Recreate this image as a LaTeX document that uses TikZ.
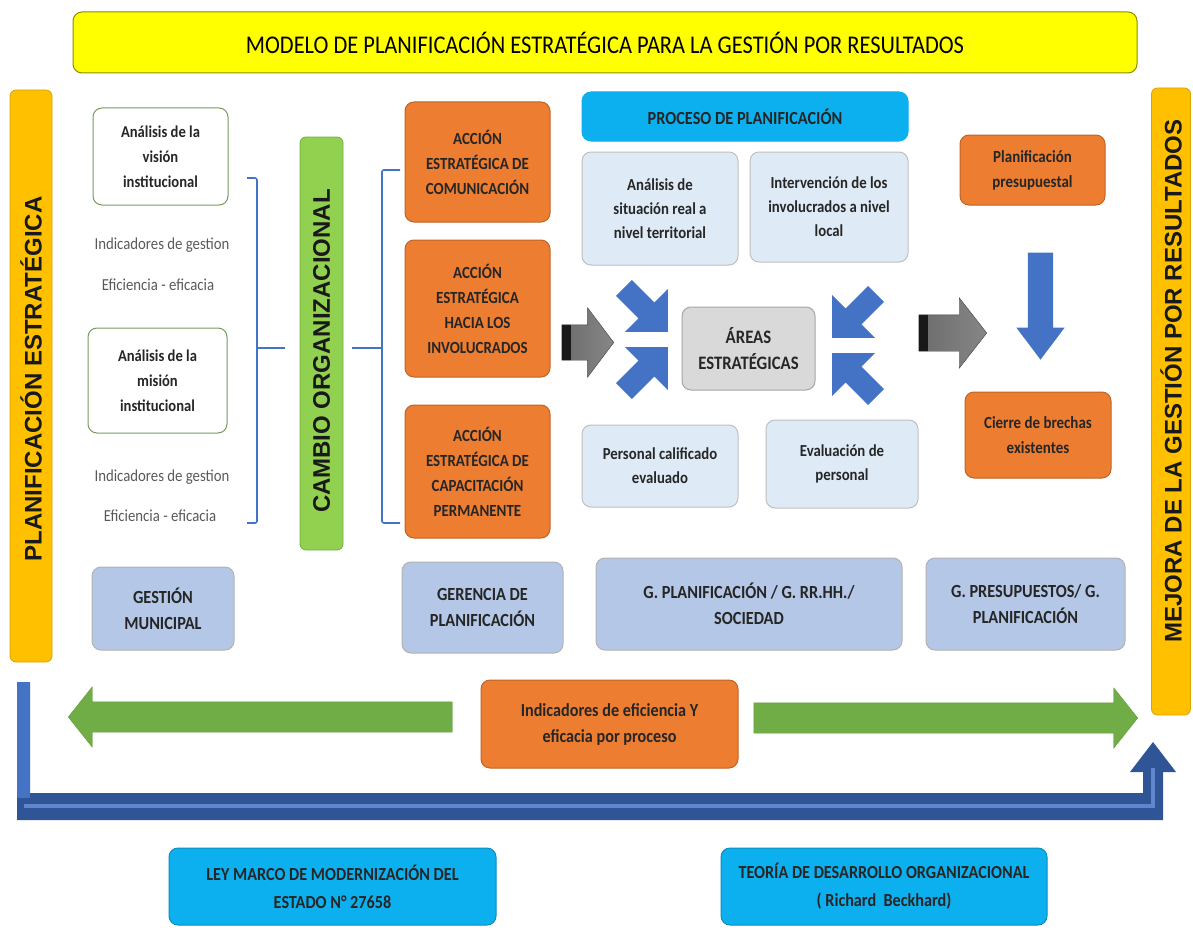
\documentclass[tikz,border=0pt]{standalone}
\usepackage{fontspec}
\setmainfont{Carlito}[FakeStretch=0.88]
\newfontfamily\arialfont{Liberation Sans}
\usepackage{xcolor}
\usepackage{tikz}
\usetikzlibrary{shapes, arrows.meta, positioning}

\definecolor{amarillo}{HTML}{FFFF00}
\definecolor{dorado}{HTML}{FFC000}
\definecolor{naranja}{HTML}{ED7D31}
\definecolor{verde}{HTML}{92D050}
\definecolor{verdeflecha}{HTML}{70AD47}
\definecolor{celeste}{HTML}{DEEBF7}
\definecolor{azulgris}{HTML}{B4C7E7}
\definecolor{azul}{HTML}{4472C4}
\definecolor{azuloscuro}{HTML}{2F5597}
\definecolor{cian}{HTML}{0DB0EE}
\definecolor{gris}{HTML}{D9D9D9}
\definecolor{texto}{HTML}{262626}

\tikzset{
  caja/.style={rounded corners=9pt, align=center, text=texto, inner sep=2pt,
    line width=1pt, font=\bfseries\fontsize{17}{25}\selectfont},
  naranjabox/.style={caja, fill=naranja, draw=naranja!80!black},
  celestebox/.style={caja, fill=celeste, draw=gray!50, font=\bfseries\fontsize{16.8}{24}\selectfont},
  blancobox/.style={caja, fill=white, draw=verdeflecha!60!gray, font=\bfseries\fontsize{16.6}{25}\selectfont},
  gerenciabox/.style={caja, fill=azulgris, draw=gray!60, font=\bfseries\fontsize{18.5}{26}\selectfont},
  cianbox/.style={caja, fill=cian, draw=cian!80!black, font=\bfseries\fontsize{18.4}{28}\selectfont},
  barra/.style={rounded corners=6pt, fill=dorado, draw=dorado!85!black, line width=.8pt},
  vtexto/.style={rotate=90, inner sep=0pt, text=black!90, font=\arialfont\bfseries\fontsize{24}{24}\selectfont},
  indicador/.style={inner sep=0pt, text=black!65, font=\fontsize{16.8}{17}\selectfont},
  llave/.style={azul, line width=1.6pt, rounded corners=2pt},
  flechaazul/.style={single arrow, fill=azul, single arrow tip angle=90, inner sep=11pt,
    single arrow head extend=19pt, minimum height=62pt, anchor=tip},
  flechagris/.style={single arrow, draw=black!75, left color=gray!85!black, right color=gray!95,
    inner xsep=0pt, anchor=tip,
    path picture={\fill[black!90] (path picture bounding box.south west)
      rectangle ([xshift=9pt]path picture bounding box.north west);}},
  flechaverde/.style={single arrow, fill=verdeflecha, draw=verdeflecha!90!black, inner xsep=0pt,
    inner ysep=15pt, single arrow head extend=15pt, single arrow tip angle=103,
    minimum height=384pt, anchor=tip}
}

\begin{document}
\begin{tikzpicture}[x=1pt, y=-1pt]
  \useasboundingbox (0,0) rectangle (1193,931);

  % Titulo
  \node[caja, fill=amarillo, draw=amarillo!55!black, minimum width=1064, minimum height=61,
    text=black, font=\fontsize{25.5}{26}\selectfont] (titulo) at (605,42.5)
    {MODELO DE PLANIFICACIÓN ESTRATÉGICA PARA LA GESTIÓN POR RESULTADOS};

  % Barras laterales
  \node[barra, rotate=90, minimum width=572, minimum height=42] (planest) at (31,376) {};
  \node[vtexto] (planesttxt) at (31,379) {PLANIFICACIÓN ESTRATÉGICA};
  \node[barra, rotate=90, minimum width=627, minimum height=39] (mejora) at (1171,401.5) {};
  \node[vtexto] (mejoratxt) at (1171,381) {MEJORA DE LA GESTIÓN POR RESULTADOS};

  % Columna izquierda
  \node[blancobox, minimum width=135, minimum height=97] (vision) at (160.5,156.5)
    {Análisis de la\\visión\\institucional};
  \node[indicador] (ind1) at (162,245) {Indicadores de gestion};
  \node[indicador] (efi1) at (158,285) {Eficiencia - eficacia};
  \node[blancobox, minimum width=139, minimum height=105] (mision) at (157.5,380.5)
    {Análisis de la\\misión\\institucional};
  \node[indicador] (ind2) at (162,477) {Indicadores de gestion};
  \node[indicador] (efi2) at (160,516) {Eficiencia - eficacia};

  % Llaves
  \draw[llave] (247,178) -- (257,178) -- (257,523) -- (247,523);
  \draw[llave] (257,348) -- (285,348);
  \draw[llave] (400,170) -- (382,170) -- (382,523) -- (400,523);
  \draw[llave] (352,348) -- (382,348);

  % Cambio organizacional
  \node[barra, rotate=90, fill=verde, draw=verdeflecha, minimum width=413, minimum height=43]
    (cambio) at (321.5,343.5) {};
  \node[vtexto] (cambiotxt) at (321.5,351) {CAMBIO ORGANIZACIONAL};

  % Acciones estrategicas
  \node[naranjabox, minimum width=145, minimum height=120] (comunic) at (477.5,162)
    {ACCIÓN\\ESTRATÉGICA DE\\COMUNICACIÓN};
  \node[naranjabox, minimum width=145, minimum height=137] (involuc) at (477.5,308.5)
    {ACCIÓN\\ESTRATÉGICA\\HACIA LOS\\INVOLUCRADOS};
  \node[naranjabox, minimum width=145, minimum height=133] (capacit) at (477.5,471.5)
    {ACCIÓN\\ESTRATÉGICA DE\\CAPACITACIÓN\\PERMANENTE};

  % Proceso de planificacion
  \node[caja, fill=cian, draw=cian, minimum width=326, minimum height=49,
    font=\bfseries\fontsize{18.5}{19}\selectfont] (proceso) at (745,116.5) {PROCESO DE PLANIFICACIÓN};
  \node[celestebox, minimum width=156, minimum height=113] (situacion) at (660,208.5)
    {Análisis de\\situación real a\\nivel territorial};
  \node[celestebox, minimum width=158, minimum height=110] (intervencion) at (829,207)
    {Intervención de los\\involucrados a nivel\\local};
  \node[caja, fill=gris, draw=gray!70, minimum width=133, minimum height=83,
    font=\bfseries\fontsize{19}{26}\selectfont] (areas) at (748.5,348.5)
    {ÁREAS\\ESTRATÉGICAS};
  \node[celestebox, minimum width=156, minimum height=82] (personal) at (660,466)
    {Personal calificado\\evaluado};
  \node[celestebox, minimum width=152, minimum height=88] (evaluacion) at (842,464)
    {Evaluación de\\personal};

  % Flechas hacia las areas
  \node[flechaazul, rotate=-45] (fa1) at (668,332) {};
  \node[flechaazul, rotate=45] (fa2) at (668,347) {};
  \node[flechaazul, rotate=-135] (fa3) at (832,338) {};
  \node[flechaazul, rotate=135] (fa4) at (832,353) {};
  \node[flechagris, inner ysep=17.5pt, single arrow head extend=17pt, single arrow tip angle=106,
    minimum height=52pt] (fg1) at (614,342.5) {};
  \node[flechagris, inner ysep=18pt, single arrow head extend=17pt, single arrow tip angle=104,
    minimum height=68pt] (fg2) at (987,333) {};

  % Presupuesto
  \node[naranjabox, minimum width=145, minimum height=70] (presup) at (1032.5,170)
    {Planificación\\presupuestal};
  \node[single arrow, fill=azul, rotate=-90, anchor=tip, inner xsep=0pt, inner ysep=12.5pt,
    single arrow head extend=11.5pt, single arrow tip angle=74, minimum height=107pt]
    (fbaja) at (1040.5,360) {};
  \node[naranjabox, minimum width=146, minimum height=86] (cierre) at (1038,435)
    {Cierre de brechas\\existentes};

  % Gerencias
  \node[gerenciabox, minimum width=142, minimum height=83] (gestion) at (163,608.5)
    {GESTIÓN\\MUNICIPAL};
  \node[gerenciabox, minimum width=161, minimum height=91] (gerencia) at (482.5,607.5)
    {GERENCIA DE\\PLANIFICACIÓN};
  \node[gerenciabox, minimum width=306, minimum height=92] (gplanif) at (749,604)
    {G. PLANIFICACIÓN / G. RR.HH./\\SOCIEDAD};
  \node[gerenciabox, minimum width=199, minimum height=92] (gpresup) at (1025.5,604)
    {G. PRESUPUESTOS/ G.\\PLANIFICACIÓN};

  % Indicadores por proceso
  \node[naranjabox, minimum width=257, minimum height=88, font=\bfseries\fontsize{18.4}{26}\selectfont]
    (indicproc) at (609.5,724) {Indicadores de eficiencia Y\\eficacia por proceso};
  \node[flechaverde, rotate=180] (fv1) at (68,717) {};
  \node[flechaverde] (fv2) at (1138,718) {};

  % Flecha azul inferior
  \fill[azuloscuro] (17,682) -- (30,682) -- (30,793) -- (1143,793) -- (1143,772) -- (1130,772)
    -- (1153,742) -- (1176,772) -- (1163,772) -- (1163,820) -- (17,820) -- cycle;
  \fill[azul] (17,682) rectangle (30,798);
  \draw[azul!85!white, line width=4pt] (24,806) -- (1153,806) -- (1153,768);

  % Marco legal y teorico
  \node[cianbox, minimum width=327, minimum height=77] (ley) at (332.5,886.5)
    {LEY MARCO DE MODERNIZACIÓN DEL\\ESTADO N° 27658};
  \node[cianbox, minimum width=326, minimum height=77] (teoria) at (884,886.5)
    {TEORÍA DE DESARROLLO ORGANIZACIONAL\\( Richard\ \ Beckhard)};
\end{tikzpicture}
\end{document}
